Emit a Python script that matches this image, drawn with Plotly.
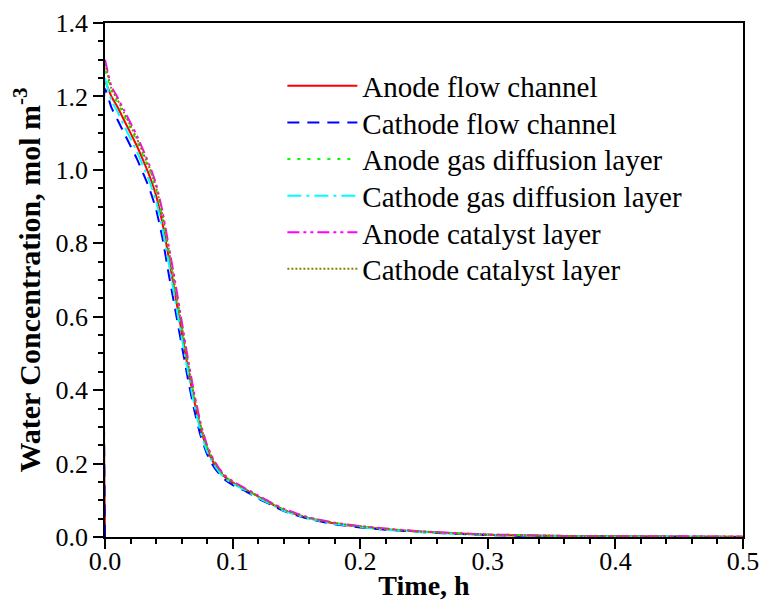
import plotly.graph_objects as go

# ---- data ----
TIME = [0, 0.005, 0.01, 0.015, 0.02, 0.025, 0.03, 0.035, 0.04, 0.045, 0.05, 0.055,
        0.06, 0.065, 0.07, 0.075, 0.08, 0.085, 0.09, 0.095, 0.1, 0.105, 0.11, 0.115,
        0.12, 0.13, 0.14, 0.15, 0.16, 0.18, 0.2, 0.22, 0.25, 0.28, 0.3, 0.33, 0.36,
        0.4, 0.45, 0.5]

ANODE_FLOW = [1.24, 1.20, 1.17, 1.135, 1.10, 1.065, 1.025, 0.982, 0.93, 0.855, 0.76, 0.66,
              0.56, 0.46, 0.37, 0.295, 0.24, 0.203, 0.178, 0.16, 0.148, 0.138, 0.129, 0.12,
              0.11, 0.091, 0.074, 0.061, 0.051, 0.037, 0.028, 0.021, 0.014, 0.009, 0.006,
              0.004, 0.003, 0.002, 0.001, 0.001]
CATHODE_FLOW = [1.22, 1.17, 1.135, 1.10, 1.065, 1.03, 0.99, 0.947, 0.893, 0.815, 0.715, 0.62,
                0.525, 0.43, 0.345, 0.275, 0.226, 0.193, 0.17, 0.153, 0.142, 0.133, 0.125, 0.115,
                0.105, 0.088, 0.071, 0.059, 0.049, 0.035, 0.026, 0.02, 0.013, 0.008, 0.005,
                0.003, 0.002, 0.001, 0.001, 0.0]
ANODE_GDL = [1.27, 1.215, 1.18, 1.148, 1.113, 1.078, 1.038, 0.997, 0.945, 0.87, 0.775, 0.675,
             0.575, 0.47, 0.38, 0.302, 0.245, 0.207, 0.181, 0.162, 0.15, 0.14, 0.13, 0.121,
             0.111, 0.092, 0.075, 0.062, 0.052, 0.038, 0.029, 0.022, 0.015, 0.009, 0.007,
             0.005, 0.003, 0.002, 0.001, 0.001]
CATHODE_GDL = [1.25, 1.19, 1.157, 1.12, 1.085, 1.05, 1.01, 0.968, 0.915, 0.84, 0.745, 0.645,
               0.545, 0.45, 0.36, 0.285, 0.233, 0.199, 0.175, 0.157, 0.146, 0.136, 0.127, 0.117,
               0.107, 0.089, 0.072, 0.060, 0.050, 0.036, 0.027, 0.02, 0.013, 0.008, 0.006,
               0.004, 0.002, 0.001, 0.001, 0.0]
ANODE_CL = [1.30, 1.228, 1.196, 1.162, 1.128, 1.093, 1.053, 1.012, 0.962, 0.888, 0.792, 0.695,
            0.59, 0.485, 0.39, 0.31, 0.25, 0.211, 0.184, 0.165, 0.152, 0.142, 0.132, 0.123,
            0.113, 0.094, 0.077, 0.064, 0.053, 0.039, 0.030, 0.023, 0.015, 0.01, 0.007,
            0.005, 0.003, 0.002, 0.002, 0.001]
CATHODE_CL = [1.29, 1.222, 1.19, 1.155, 1.12, 1.085, 1.045, 1.004, 0.953, 0.878, 0.782, 0.68,
              0.578, 0.475, 0.382, 0.304, 0.246, 0.208, 0.181, 0.162, 0.15, 0.14, 0.13, 0.121,
              0.111, 0.092, 0.075, 0.062, 0.052, 0.038, 0.029, 0.022, 0.014, 0.009, 0.006,
              0.004, 0.003, 0.002, 0.001, 0.001]

# flow-channel curves start from zero at t = 0
FLOW_START_T = [0.0]
FLOW_START_C = [0.0]

SERIES_NAMES = ["Anode flow channel", "Cathode flow channel", "Anode gas diffusion layer",
                "Cathode gas diffusion layer", "Anode catalyst layer", "Cathode catalyst layer"]

X_TICKS = [0.0, 0.1, 0.2, 0.3, 0.4, 0.5]
Y_TICKS = [0.0, 0.2, 0.4, 0.6, 0.8, 1.0, 1.2, 1.4]

# ---- styles / layout ----
SERIF = "Times New Roman, Liberation Serif, DejaVu Serif, serif"

styles = [
    dict(color="#FF0000", dash="solid"),
    dict(color="#0000FF", dash="12px,8px"),
    dict(color="#00FF00", dash="3px,7px"),
    dict(color="#00FFFF", dash="14px,5px,3px,5px"),
    dict(color="#FF00FF", dash="12px,4px,3px,4px,3px,4px"),
    dict(color="#808000", dash="2px,2px"),
]

series = [
    (FLOW_START_T + TIME, FLOW_START_C + ANODE_FLOW),
    (FLOW_START_T + TIME, FLOW_START_C + CATHODE_FLOW),
    (TIME, ANODE_GDL),
    (TIME, CATHODE_GDL),
    (TIME, ANODE_CL),
    (TIME, CATHODE_CL),
]

FIG_W, FIG_H = 764, 614
M_L, M_R, M_T, M_B = 105, 21, 23, 77
PLOT_H = FIG_H - M_T - M_B
LEG_ROW0_PX, LEG_ROW_STEP_PX = 86, 36.6   # legend row centres (pixels from top)

fig = go.Figure()
legend_layouts = {}
for i, (name, (xs, ys), st) in enumerate(zip(SERIES_NAMES, series, styles)):
    leg_id = "legend" if i == 0 else f"legend{i + 1}"
    fig.add_trace(go.Scatter(
        x=xs, y=ys, mode="lines", name=name, legend=leg_id,
        line=dict(color=st["color"], dash=st["dash"], width=2, shape="spline", smoothing=0.5),
    ))
    row_px = LEG_ROW0_PX + LEG_ROW_STEP_PX * i
    legend_layouts[leg_id] = dict(
        x=0.278, y=(FIG_H - M_B - row_px) / PLOT_H, xanchor="left", yanchor="middle",
        font=dict(family=SERIF, size=29, color="black"),
        bgcolor="rgba(0,0,0,0)", borderwidth=0, itemwidth=70,
    )

axis_font = dict(family=SERIF, size=26, color="black")

fig.update_layout(
    width=FIG_W, height=FIG_H,
    margin=dict(l=M_L, r=M_R, t=M_T, b=M_B),
    paper_bgcolor="white", plot_bgcolor="white",
    font=dict(family=SERIF, color="black"),
    showlegend=True,
    **legend_layouts,
    xaxis=dict(
        range=[0, 0.5], tickvals=X_TICKS, tickformat=".1f", automargin=False,
        showline=True, linecolor="black", linewidth=1.5, mirror=True, layer="below traces",
        ticks="outside", ticklen=10, tickwidth=1.5, tickcolor="black",
        minor=dict(dtick=0.02, ticks="outside", ticklen=5, tickwidth=1.5, tickcolor="black"),
        showgrid=False, zeroline=False, ticklabelstandoff=-10,
        tickfont=axis_font,
        title=dict(text="<b>Time, h</b>", font=dict(family=SERIF, size=28, color="black"),
                   standoff=0),
    ),
    yaxis=dict(
        range=[0, 1.4], tickvals=Y_TICKS, tickformat=".1f", automargin=False,
        showline=True, linecolor="black", linewidth=1.5, mirror=True, layer="below traces",
        ticks="outside", ticklen=10, tickwidth=1.5, tickcolor="black",
        minor=dict(dtick=0.05, ticks="outside", ticklen=5, tickwidth=1.5, tickcolor="black"),
        showgrid=False, zeroline=False,
        tickfont=axis_font,
        title=dict(text="<b>Water Concentration, mol m<sup>-3</sup></b>",
                   font=dict(family=SERIF, size=30, color="black"), standoff=6),
    ),
)

fig.write_html("out.html")
